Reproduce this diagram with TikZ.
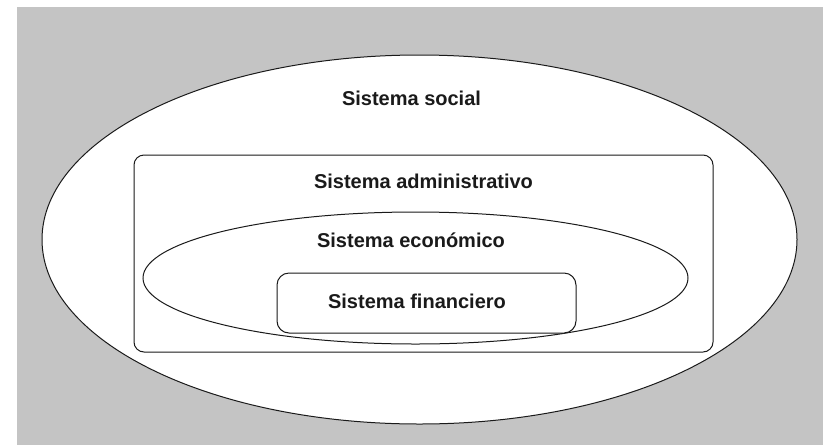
\documentclass[tikz,border=0pt]{standalone}
\usepackage{fontspec}
\setmainfont{Liberation Sans}
\usetikzlibrary{positioning}
\definecolor{fondogris}{HTML}{C4C4C4}
\definecolor{trazo}{HTML}{1A1A1A}

\begin{document}
\begin{tikzpicture}[x=1pt,y=-1pt,
  contorno/.style={draw=trazo,line width=1pt,fill=white},
  etiqueta/.style={font=\fontsize{20}{23}\selectfont\bfseries,text=trazo,inner sep=0pt,anchor=base}]
  \useasboundingbox (0,0) rectangle (829,445);
  \fill[fondogris] (17,7) rectangle (823,445);
  % sistemas, de fuera hacia dentro
  \draw[contorno] (419.5,239.5) ellipse [x radius=377.5,y radius=184.5];
  \draw[contorno,rounded corners=10pt] (134,155) rectangle (713,352);
  \draw[contorno] (415.5,278) ellipse [x radius=272.5,y radius=66];
  \draw[contorno,rounded corners=12pt] (277,273) rectangle (576,333);
  \node[etiqueta] (social) at (411.5,105) {Sistema social};
  \node[etiqueta] (admin) at (423.5,188) {Sistema administrativo};
  \node[etiqueta] (economico) at (411,247) {Sistema económico};
  \node[etiqueta] (financiero) at (417,308) {Sistema financiero};
\end{tikzpicture}
\end{document}
